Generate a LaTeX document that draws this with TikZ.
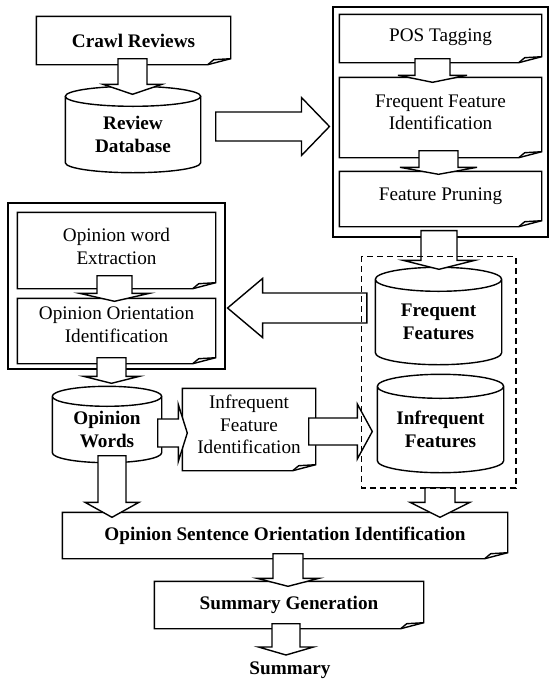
\documentclass[tikz,border=0pt]{standalone}
\usepackage{fontspec}
\setmainfont{Liberation Serif}
\usetikzlibrary{calc}

\newcommand{\diagfont}{\fontsize{19.2}{22.5}\selectfont}

% box with a folded corner round a node
\newcommand{\notebox}[1]{%
  \draw (#1.north west) -- (#1.north east) -- ($(#1.south east)+(0,-6)$)
    -- ($(#1.south east)+(-23,0)$) -- (#1.south west) -- cycle;
  \draw ($(#1.south east)+(-23,0)$) -- ($(#1.south east)+(-17,-5)$) -- ($(#1.south east)+(0,-6)$);
}

% drum round a node, top ellipse centred on its north
\newcommand{\drum}[2]{%
  \draw let \p1=($(#1.north east)-(#1.north west)$), \n1={0.5*\x1} in
    (#1.north) ellipse [x radius={\n1*1pt}, y radius=#2pt]
    (#1.north west) -- ($(#1.south west)+(0,-#2)$)
    arc [start angle=180, end angle=360, x radius={\n1*1pt}, y radius=#2pt]
    -- (#1.north east);
}

% hollow block arrow: start, tip, half shaft, half head, head length
\newcommand{\fatarrow}[5]{%
  \draw[fill=white] let \p1=#1, \p2=#2,
    \n1={atan2(\y2-\y1,\x2-\x1)}, \n2={veclen(\x2-\x1,\y2-\y1)-#5} in
    [shift={(\p1)}, rotate=\n1]
    (0pt,{-#3*1pt}) -- ({\n2*1pt},{-#3*1pt}) -- ({\n2*1pt},{-#4*1pt}) -- ({(\n2+#5)*1pt},0pt)
    -- ({\n2*1pt},{#4*1pt}) -- ({\n2*1pt},{#3*1pt}) -- (0pt,{#3*1pt}) -- cycle;
}

\begin{document}
\begin{tikzpicture}[x=1pt, y=-1pt, line width=1.4pt, line join=miter,
  note/.style = {inner sep=0pt, align=center, font=\diagfont},
  boldnote/.style = {note, font=\diagfont\bfseries},
  drumnode/.style = {inner sep=0pt, align=center, font=\diagfont\bfseries},
  group/.style = {draw, inner sep=0pt, line width=1.1pt}]
  \useasboundingbox (0,0) rectangle (556,686);

  % groups
  \node[group, minimum width=215pt, minimum height=230pt] (rightgrp) at (440.5,122) {};
  \node[group, minimum width=217pt, minimum height=166pt] (leftgrp) at (116.5,286) {};
  \node[inner sep=0pt, minimum width=153pt, minimum height=230pt] (dashgrp) at (438.5,372) {};

  % steps
  \node[boldnote, minimum width=193pt, minimum height=47pt] (crawl) at (133.5,40.5) {Crawl Reviews};
  \node[note, minimum width=201pt, minimum height=47pt] (pos) at (440.5,38.5) {POS Tagging\\[-15pt]};
  \node[note, minimum width=201pt, minimum height=79pt] (ffi) at (440.5,117.5) {Frequent Feature\\Identification\\[-12pt]};
  \node[note, minimum width=201pt, minimum height=54pt] (fp) at (440.5,199) {Feature Pruning\\[-12pt]};
  \node[note, minimum width=197pt, minimum height=75pt] (owe) at (116.5,250.5) {Opinion word\\Extraction\\[-14pt]};
  \node[note, minimum width=197pt, minimum height=64pt] (ooi) at (116.5,331) {Opinion Orientation\\Identification\\[-10pt]};
  \node[note, minimum width=132pt, minimum height=81pt] (ifi) at (249,429.5) {Infrequent\\Feature\\Identification\\[-12pt]};
  \node[boldnote, minimum width=444pt, minimum height=45pt] (osoi) at (285,535.5) {Opinion Sentence Orientation Identification};
  \node[boldnote, minimum width=268pt, minimum height=46pt] (sg) at (289,605) {Summary Generation};
  \node[inner sep=0pt, anchor=north, font=\diagfont\bfseries] (summary) at (290,661) {Summary};
  \foreach \n in {crawl,pos,ffi,fp,owe,ooi,ifi,osoi,sg} {\notebox{\n}}

  % stores
  \node[drumnode, minimum width=134pt, minimum height=75pt] (rdb) at (133,134.5) {Review\\Database};
  \node[drumnode, minimum width=125pt, minimum height=84pt] (freq) at (438.5,322) {Frequent\\Features};
  \node[drumnode, minimum width=125pt, minimum height=85pt] (infreq) at (440.5,429.5) {Infrequent\\Features};
  \node[drumnode, minimum width=108pt, minimum height=65pt] (opw) at (107,429.5) {Opinion\\Words};
  \drum{rdb}{10}
  \drum{freq}{12}
  \drum{infreq}{12}
  \drum{opw}{10}

  % flow
  \fatarrow{($(crawl.south)+(-1,-6)$)}{($(rdb.north)+(-0.5,-2)$)}{14.5}{29.5}{10}
  \fatarrow{($(rdb.east)+(15,-8)$)}{($(rightgrp.west)+(-3,4.5)$)}{14.5}{29}{28}
  \fatarrow{($(pos.south)+(-8,-4)$)}{($(ffi.north)+(-8,5)$)}{17.5}{34.5}{7}
  \fatarrow{($(ffi.south)+(-2,-7)$)}{($(fp.north)+(-2,3)$)}{19.5}{38.5}{7}
  \fatarrow{($(rightgrp.south)+(-1.5,-7)$)}{($(freq.north)+(0.5,-10)$)}{18}{36}{9}
  \fatarrow{($(freq.west)+(-8.5,-14)$)}{($(leftgrp.east)+(2,22)$)}{15}{29.5}{35}
  \fatarrow{($(owe.south)+(-2,-13)$)}{($(ooi.north)+(-2,3)$)}{17.5}{35}{8}
  \fatarrow{($(ooi.south)+(-5,-6)$)}{($(opw.north)+(4.5,-13)$)}{14.5}{28}{7}
  \fatarrow{($(opw.east)+(-4,3.5)$)}{($(ifi.west)+(5,3.5)$)}{14}{28.5}{9}
  \fatarrow{($(ifi.east)+(-7,2)$)}{($(infreq.west)+(-5,2)$)}{13.5}{27.5}{15}
  \fatarrow{($(opw.south)+(5,-7)$)}{($(opw.south |- osoi.north)+(5,5)$)}{14}{27}{15}
  \fatarrow{($(dashgrp.south)+(1.5,0)$)}{($(dashgrp.south |- osoi.north)+(1.5,5)$)}{15}{30}{15}
  \fatarrow{($(osoi.south)+(3,-5)$)}{($(sg.north)+(-1,5)$)}{15}{31}{8}
  \fatarrow{($(sg.south)+(-3,-5)$)}{($(summary.north)+(-4,-6)$)}{14}{27.5}{8}

  \draw[line width=1.6pt, dash pattern=on 6pt off 4pt] (dashgrp.north west) rectangle (dashgrp.south east);
\end{tikzpicture}
\end{document}
